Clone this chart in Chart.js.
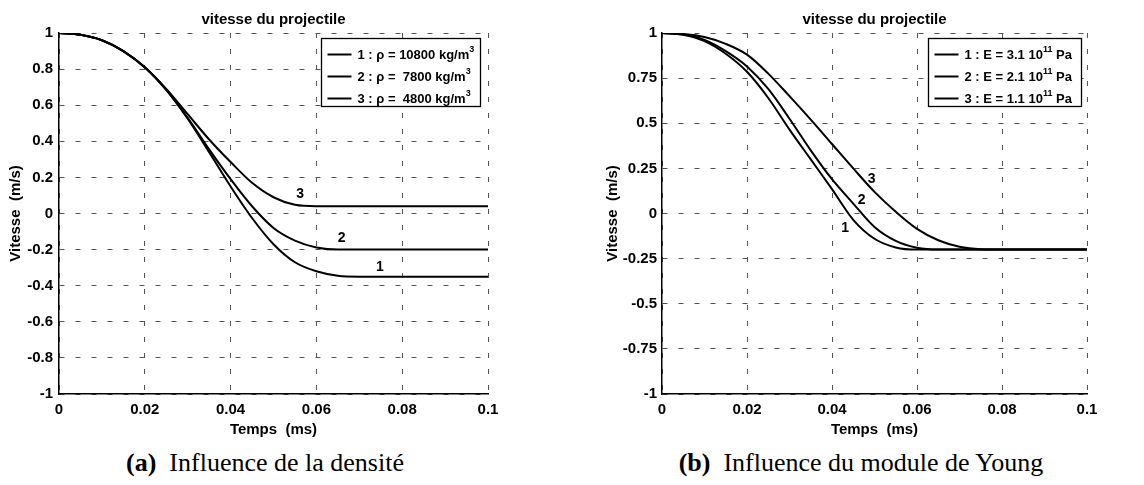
<!DOCTYPE html>
<html lang="fr">
<head>
<meta charset="utf-8">
<title>vitesse du projectile</title>
<script src="https://cdn.jsdelivr.net/npm/chart.js@4.4.1/dist/chart.umd.min.js"></script>
<style>
  body { margin: 0; background: #fff; }
  #page { position: relative; width: 1144px; height: 485px; overflow: hidden; }
  .panel { position: absolute; top: 0; }
  .panel canvas { display: block; }
  .caption {
    position: absolute; top: 448px; line-height: 30px;
    font-family: "Liberation Serif", "Times New Roman", serif; font-size: 26px;
    white-space: nowrap; transform: translateX(-50%); color: #000;
  }
</style>
</head>
<body>
<div id="page">
  <div class="panel" style="left:0"><canvas id="chartA" width="560" height="440"></canvas></div>
  <div class="panel" style="left:580px"><canvas id="chartB" width="564" height="440"></canvas></div>
  <div class="caption" style="left:265px"><b>(a)</b>&nbsp; Influence de la densité</div>
  <div class="caption" style="left:861px"><b>(b)</b>&nbsp; Influence du module de Young</div>
</div>
<script>
// --- (a) influence de la densité ---
const timeA = [0, 0.005, 0.01, 0.015, 0.02, 0.025, 0.03, 0.035, 0.04, 0.045, 0.05, 0.055, 0.06, 0.065, 0.07, 0.08, 0.09, 0.1];
const rho10800 = [1, 0.99, 0.96, 0.9, 0.81, 0.685, 0.525, 0.34, 0.15, -0.025, -0.17, -0.27, -0.32, -0.345, -0.35, -0.35, -0.35, -0.35];
const rho7800  = [1, 0.99, 0.96, 0.9, 0.81, 0.685, 0.53, 0.355, 0.19, 0.04, -0.08, -0.15, -0.188, -0.2, -0.2, -0.2, -0.2, -0.2];
const rho4800  = [1, 0.99, 0.96, 0.9, 0.81, 0.69, 0.55, 0.41, 0.285, 0.17, 0.09, 0.048, 0.04, 0.04, 0.04, 0.04, 0.04, 0.04];
const legendA = ['1 : ρ = 10800 kg/m³', '2 : ρ =  7800 kg/m³', '3 : ρ =  4800 kg/m³'];
const tagTimeA = [0.0748, 0.0659, 0.0562];
const tagValA = [-0.295, -0.138, 0.107];

// --- (b) influence du module de Young ---
const timeB = [0, 0.005, 0.01, 0.015, 0.02, 0.025, 0.03, 0.035, 0.04, 0.045, 0.05, 0.055, 0.06, 0.065, 0.07, 0.075, 0.08, 0.09, 0.1];
const e31 = [1, 0.99, 0.955, 0.885, 0.785, 0.64, 0.465, 0.3, 0.135, -0.035, -0.14, -0.188, -0.2, -0.2, -0.2, -0.2, -0.2, -0.2, -0.2];
const e21 = [1, 0.992, 0.962, 0.9, 0.815, 0.69, 0.525, 0.35, 0.19, 0.055, -0.075, -0.152, -0.19, -0.2, -0.2, -0.2, -0.2, -0.2, -0.2];
const e11 = [1, 0.995, 0.978, 0.94, 0.88, 0.775, 0.65, 0.52, 0.385, 0.25, 0.12, 0.01, -0.085, -0.148, -0.184, -0.198, -0.2, -0.2, -0.2];
const legendB = ['1 : E = 3.1 10¹¹ Pa', '2 : E = 2.1 10¹¹ Pa', '3 : E = 1.1 10¹¹ Pa'];
const tagTimeB = [0.0431, 0.047, 0.0493];
const tagValB = [-0.083, 0.074, 0.19];

// axes
const xTicks = [0, 0.02, 0.04, 0.06, 0.08, 0.1];
const xTickLabels = ['0', '0.02', '0.04', '0.06', '0.08', '0.1'];
const yTicksA = [-1, -0.8, -0.6, -0.4, -0.2, 0, 0.2, 0.4, 0.6, 0.8, 1];
const yTickLabelsA = ['-1', '-0.8', '-0.6', '-0.4', '-0.2', '0', '0.2', '0.4', '0.6', '0.8', '1'];
const yTicksB = [-1, -0.75, -0.5, -0.25, 0, 0.25, 0.5, 0.75, 1];
const yTickLabelsB = ['-1', '-0.75', '-0.5', '-0.25', '0', '0.25', '0.5', '0.75', '1'];
const tagLabels = ['1', '2', '3'];

const FONT = '"Liberation Sans", Arial, Helvetica, sans-serif';
Chart.defaults.font.family = FONT;
Chart.defaults.color = '#000';

const SUP = { '⁰': '0', '¹': '1', '²': '2', '³': '3', '⁴': '4', '⁵': '5', '⁶': '6', '⁷': '7', '⁸': '8', '⁹': '9' };

function splitRuns(str) {
    const runs = [];
    for (const ch of str) {
        const sup = ch in SUP;
        const c = sup ? SUP[ch] : ch;
        const last = runs[runs.length - 1];
        if (last && last.sup === sup) last.text += c;
        else runs.push({ text: c, sup: sup });
    }
    return runs;
}

function richWidth(ctx, str) {
    let w = 0;
    splitRuns(str).forEach(r => {
        ctx.font = (r.sup ? 'bold 9px ' : 'bold 13px ') + FONT;
        w += ctx.measureText(r.text).width;
    });
    return w;
}

function drawRich(ctx, str, x, y) {
    splitRuns(str).forEach(r => {
        ctx.font = (r.sup ? 'bold 9px ' : 'bold 13px ') + FONT;
        ctx.fillText(r.text, x, r.sup ? y - 6 : y);
        x += ctx.measureText(r.text).width;
    });
}

// boxed legend inside the plot, like the matlab one
const boxLegend = {
    id: 'boxLegend',
    afterDraw(chart, args, opts) {
        const { ctx, chartArea } = chart;
        const sets = chart.data.datasets;
        ctx.save();
        const textW = Math.max(...sets.map(ds => richWidth(ctx, ds.label)));
        const w = Math.round(textW + 36 + opts.padRight);
        const h = 68;
        const x0 = Math.round(chartArea.right - opts.right - w) + 0.5;
        const y0 = Math.round(chartArea.top + opts.top) + 0.5;
        ctx.fillStyle = '#fff';
        ctx.fillRect(x0, y0, w, h);
        ctx.strokeStyle = '#000';
        ctx.lineWidth = 1.3;
        ctx.strokeRect(x0, y0, w, h);
        sets.forEach((ds, i) => {
            const y = y0 + 16 + i * 22;
            ctx.strokeStyle = ds.borderColor;
            ctx.lineWidth = ds.borderWidth;
            ctx.beginPath();
            ctx.moveTo(x0 + 6, y);
            ctx.lineTo(x0 + 30, y);
            ctx.stroke();
            ctx.fillStyle = '#000';
            ctx.textBaseline = 'middle';
            ctx.textAlign = 'left';
            drawRich(ctx, ds.label, x0 + 36, y + 1);
        });
        ctx.restore();
    }
};

// numbers written next to each curve
const curveTags = {
    id: 'curveTags',
    afterDatasetsDraw(chart, args, opts) {
        const { ctx, scales } = chart;
        ctx.save();
        ctx.font = 'bold 14px ' + FONT;
        ctx.fillStyle = '#000';
        ctx.textAlign = 'center';
        ctx.textBaseline = 'middle';
        opts.text.forEach((t, i) => {
            ctx.fillText(t, scales.x.getPixelForValue(opts.xs[i]), scales.y.getPixelForValue(opts.ys[i]));
        });
        ctx.restore();
    }
};

function series(label, times, values) {
    return {
        label: label,
        data: times.map((t, i) => ({ x: t, y: values[i] })),
        borderColor: '#000',
        borderWidth: 2,
        pointRadius: 0,
        fill: false,
        cubicInterpolationMode: 'monotone'
    };
}

function makeChart(id, sets, yTicks, yLabels, cfg) {
    const ctx = document.getElementById(id).getContext('2d');
    return new Chart(ctx, {
        type: 'line',
        data: { datasets: sets },
        options: {
            responsive: false,
            animation: false,
            layout: { padding: { left: 0, right: cfg.padRight, top: 5, bottom: 0 } },
            plugins: {
                legend: { display: false },
                tooltip: { enabled: false },
                title: {
                    display: true,
                    text: 'vitesse du projectile',
                    fullSize: false,
                    font: { size: 15, weight: 'bold' },
                    padding: { top: 6, bottom: 4 }
                },
                boxLegend: { right: cfg.legendRight, top: 5, padRight: cfg.legendPad },
                curveTags: { text: tagLabels, xs: cfg.tagX, ys: cfg.tagY }
            },
            scales: {
                x: {
                    type: 'linear',
                    min: 0,
                    max: 0.1,
                    afterBuildTicks: s => { s.ticks = xTicks.map(v => ({ value: v })); },
                    afterFit: s => { s.height = 46; },
                    ticks: {
                        autoSkip: false,
                        maxRotation: 0,
                        padding: 7,
                        font: { size: 15, weight: 'bold' },
                        callback: (v, i) => xTickLabels[i]
                    },
                    grid: { color: '#555', lineWidth: 1, drawTicks: false },
                    border: { display: true, color: '#000', width: 1.5, dash: [5, 11] },
                    title: {
                        display: true,
                        text: 'Temps  (ms)',
                        font: { size: 15, weight: 'bold' },
                        padding: { top: 0, bottom: 1 }
                    }
                },
                y: {
                    type: 'linear',
                    min: -1,
                    max: 1,
                    afterBuildTicks: s => { s.ticks = yTicks.map(v => ({ value: v })); },
                    afterFit: s => { s.width = cfg.yWidth; },
                    ticks: {
                        autoSkip: false,
                        padding: cfg.yPad,
                        font: { size: 15, weight: 'bold' },
                        callback: (v, i) => yLabels[i]
                    },
                    grid: { color: '#555', lineWidth: 1, drawTicks: false },
                    border: { display: true, color: '#000', width: 1.5, dash: [5, 11] },
                    title: {
                        display: true,
                        text: 'Vitesse  (m/s)',
                        font: { size: 15, weight: 'bold' },
                        padding: { top: cfg.yTitlePad, bottom: 0 }
                    }
                }
            }
        },
        plugins: [curveTags, boxLegend]
    });
}

makeChart('chartA', [
    series(legendA[0], timeA, rho10800),
    series(legendA[1], timeA, rho7800),
    series(legendA[2], timeA, rho4800)
], yTicksA, yTickLabelsA, {
    padRight: 72, yWidth: 59, yPad: 6, yTitlePad: 7,
    legendRight: 8, legendPad: 6, tagX: tagTimeA, tagY: tagValA
});

makeChart('chartB', [
    series(legendB[0], timeB, e31),
    series(legendB[1], timeB, e21),
    series(legendB[2], timeB, e11)
], yTicksB, yTickLabelsB, {
    padRight: 57, yWidth: 82, yPad: 5, yTitlePad: 24,
    legendRight: 6, legendPad: 10, tagX: tagTimeB, tagY: tagValB
});
</script>
</body>
</html>
